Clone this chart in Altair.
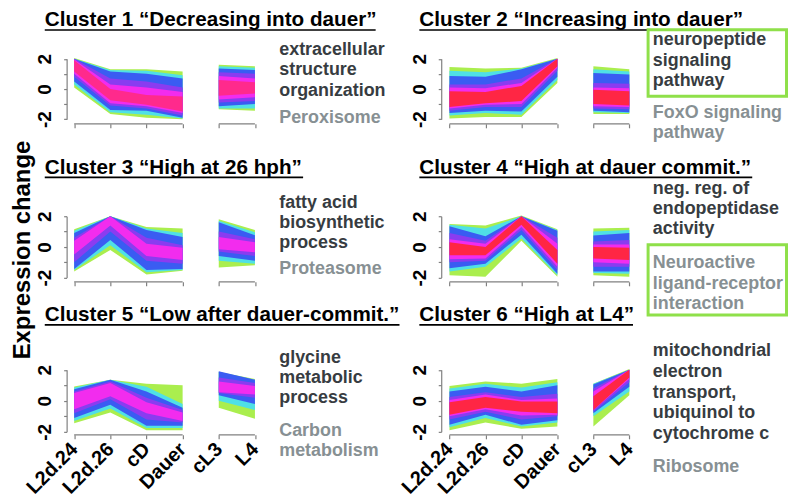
import altair as alt
import pandas as pd

# ---------------- data ----------------
TIMEPOINTS = ["L2d.24", "L2d.26", "cD", "Dauer", "cL3", "L4"]
SEGMENT = [0, 0, 0, 0, 1, 1]
Y_TICKS = [-2, -1, 0, 1, 2]
Y_TICK_LABELS = {-2: "-2", 0: "0", 2: "2"}

TITLES = [
    "Cluster 1 \u201cDecreasing into dauer\u201d",
    "Cluster 2 \u201cIncreasing into dauer\u201d",
    "Cluster 3 \u201cHigh at 26 hph\u201d",
    "Cluster 4 \u201cHigh at dauer commit.\u201d",
    "Cluster 5 \u201cLow after dauer-commit.\u201d",
    "Cluster 6 \u201cHigh at L4\u201d",
]
GO_TERMS = [
    ["extracellular", "structure", "organization"],
    ["neuropeptide", "signaling", "pathway"],
    ["fatty acid", "biosynthetic", "process"],
    ["neg. reg. of", "endopeptidase", "activity"],
    ["glycine", "metabolic", "process"],
    ["mitochondrial", "electron", "transport,", "ubiquinol to", "cytochrome c"],
]
KEGG_TERMS = [
    ["Peroxisome"],
    ["FoxO signaling", "pathway"],
    ["Proteasome"],
    ["Neuroactive", "ligand-receptor", "interaction"],
    ["Carbon", "metabolism"],
    ["Ribosome"],
]
Y_TITLE = "Expression change"

# membership bands: level -> (lower envelope, upper envelope) at the 6 time points
C1_BANDS = {
    "g": ([0.10, -1.65, -1.90, -2.00, -1.35, -1.45], [2.05, 1.30, 1.30, 1.15, 1.60, 1.50]),
    "c": ([0.30, -1.55, -1.70, -1.95, -1.30, -1.30], [2.00, 1.25, 1.20, 0.90, 1.50, 1.40]),
    "b": ([0.50, -1.40, -1.45, -1.90, -1.15, -1.00], [2.00, 1.15, 1.00, 0.70, 1.35, 1.25]),
    "v": ([0.80, -1.10, -1.30, -1.75, -0.90, -0.80], [2.00, 0.70, 0.50, 0.10, 1.10, 1.00]),
    "m": ([1.00, -0.95, -1.15, -1.60, -0.70, -0.55], [1.95, 0.30, 0.10, -0.20, 0.85, 0.70]),
    "p": ([1.15, -0.75, -1.05, -1.50, -0.45, -0.30], [1.90, 0.00, -0.40, -0.50, 0.60, 0.45]),
}
C2_BANDS = {
    "g": ([-1.95, -1.85, -1.85, 0.40, -1.65, -1.65], [1.45, 1.35, 1.40, 2.05, 1.50, 1.30]),
    "c": ([-1.75, -1.60, -1.70, 0.60, -1.55, -1.60], [1.20, 1.10, 1.35, 2.00, 1.30, 1.15]),
    "b": ([-1.60, -1.45, -1.50, 0.80, -1.45, -1.55], [0.85, 0.80, 1.30, 2.00, 1.05, 0.95]),
    "v": ([-1.45, -1.20, -1.20, 1.20, -1.30, -1.35], [0.30, 0.30, 0.70, 2.00, 0.40, 0.35]),
    "m": ([-1.30, -1.05, -1.00, 1.40, -1.15, -1.20], [0.10, 0.05, 0.40, 2.00, 0.10, 0.05]),
    "r": ([-1.20, -0.95, -0.80, 1.50, -1.00, -1.10], [-0.15, -0.20, 0.20, 2.00, -0.05, -0.15]),
}
C3_BANDS = {
    "g": ([-1.60, -0.20, -1.80, -1.55, -1.35, -1.20], [1.15, 2.00, 1.30, 1.20, 1.80, 1.10]),
    "c": ([-1.50, 0.10, -1.65, -1.50, -0.90, -1.10], [1.05, 2.00, 1.20, 0.90, 1.70, 0.95]),
    "b": ([-1.45, 0.45, -1.50, -1.45, -0.60, -0.90], [0.90, 2.00, 1.10, 0.65, 1.60, 0.76]),
    "v": ([-1.00, 1.00, -0.90, -1.10, -0.30, -0.60], [0.60, 2.00, 0.60, 0.10, 1.00, 0.50]),
    "m": ([-0.50, 1.40, -0.60, -0.85, -0.15, -0.35], [0.40, 2.00, 0.20, -0.05, 0.65, 0.30]),
}
C4_BANDS = {
    "g": ([-1.85, -1.95, 0.40, -1.95, -1.85, -1.95], [1.50, 1.40, 2.05, 1.15, 1.20, 1.25]),
    "c": ([-1.60, -1.30, 0.55, -1.85, -1.70, -1.75], [1.45, 1.20, 2.00, 1.10, 1.00, 1.10]),
    "b": ([-1.40, -1.10, 0.80, -1.75, -1.60, -1.60], [1.35, 0.70, 2.00, 1.05, 0.75, 0.90]),
    "v": ([-1.00, -0.90, 1.10, -1.50, -1.30, -1.30], [0.90, 0.40, 2.00, 0.60, 0.35, 0.45]),
    "m": ([-0.80, -0.75, 1.30, -1.30, -1.00, -1.10], [0.50, 0.20, 2.00, 0.20, 0.15, 0.15]),
    "r": ([-0.55, -0.55, 1.45, -1.10, -0.75, -0.85], [0.30, 0.00, 2.00, -0.20, 0.00, -0.05]),
}
C5_BANDS = {
    "g": ([-1.45, -0.75, -1.90, -1.90, -0.45, -1.15], [0.92, 1.35, 1.10, 1.00, 1.85, 1.40]),
    "c": ([-1.30, -0.50, -1.75, -1.75, 0.00, -0.60], [0.85, 1.35, 0.90, -0.20, 1.85, 1.35]),
    "b": ([-1.10, -0.25, -1.60, -1.60, 0.35, -0.20], [0.75, 1.35, 0.60, -0.45, 1.90, 1.35]),
    "v": ([-0.80, 0.10, -1.20, -1.40, 0.50, 0.20], [0.60, 1.25, 0.20, -0.60, 1.50, 1.15]),
    "m": ([-0.55, 0.30, -0.80, -1.30, 0.55, 0.40], [0.50, 1.15, -0.10, -0.75, 1.25, 0.95]),
}
C6_BANDS = {
    "g": ([-1.90, -1.40, -1.80, -1.65, -1.65, 0.35], [0.95, 1.25, 1.10, 1.40, 1.10, 2.05]),
    "c": ([-1.70, -1.10, -1.65, -1.40, -1.00, 0.60], [0.80, 1.10, 0.85, 1.20, 1.10, 2.00]),
    "b": ([-1.55, -0.90, -1.55, -1.25, -0.80, 0.90], [0.60, 0.90, 0.60, 1.00, 1.05, 2.00]),
    "v": ([-1.20, -0.70, -1.20, -1.00, -0.70, 1.20], [0.25, 0.55, 0.25, 0.45, 0.80, 2.00]),
    "m": ([-1.00, -0.55, -0.95, -0.90, -0.60, 1.40], [0.05, 0.40, 0.05, 0.15, 0.60, 2.00]),
    "r": ([-0.90, -0.45, -0.70, -0.80, -0.60, 1.50], [-0.10, 0.25, -0.05, -0.05, 0.30, 2.00]),
}
CLUSTER_BANDS = [C1_BANDS, C2_BANDS, C3_BANDS, C4_BANDS, C5_BANDS, C6_BANDS]

# ---------------- style / layout ----------------
FONT = "Liberation Sans"
LEVEL_COLORS = {
    "g": "#aaee4e", "c": "#4fe0e6", "b": "#3a5cf2", "v": "#8a3cf0",
    "m": "#f22cee", "p": "#ff2a8c", "r": "#ff2644",
}
AX_COLOR = "#808080"
DARK_TXT = "#373c41"
GRAY_TXT = "#879093"
BOX_GREEN = "#8fe04a"

ROW_HEIGHTS = [120, 115, 115]
AXIS_BOTTOM = 115          # x axis line position inside every panel
ROW_SPACING = 39
COL_W = [392, 393]
Y_AXIS_OFFSET = [-59, -44]
X_RANGE = [[66.6, 248.5], [52.3, 233.3]]
Y_RANGE = [[110.3, 49.5], [110.7, 49.0], [112.0, 49.5]]
TITLE_X = [37, 22]
TITLE_BASE = [17.0, 6.3, 0.7]
TITLE_END = [370, 348, 297, 357, 394, 237]
TEXT_X = [273, 257]
GO_Y = [[45.3, 66.0, 86.5], [36.0, 56.3, 76.5], [40.7, 60.5, 80.5],
        [27.0, 47.0, 67.0], [42.3, 62.5, 83.0], [35.5, 56.5, 77.5, 98.5, 119.5]]
KEGG_Y = [[113.7], [108.7, 129.0], [107.3], [101.5, 122.0, 142.5], [115.7, 136.3], [152.3]]
BOXES = {1: (252.2, 391.5, 20.2, 87.2), 3: (252.2, 391.5, 77.8, 148.5)}
Y_TITLE_PANEL = 2
Y_TITLE_POS = (15.5, 83)


def one_text(s, x, y, size, color, angle=0, align="left", baseline="alphabetic"):
    return alt.Chart(pd.DataFrame({"s": [s]})).mark_text(
        align=align, baseline=baseline, fontSize=size, fontWeight="bold",
        font=FONT, color=color, angle=angle,
    ).encode(text="s:N", x=alt.value(x), y=alt.value(y))


def panel(i):
    row, col = divmod(i, 2)
    xs = alt.Scale(domain=[0, 5], range=X_RANGE[col], nice=False, zero=False)
    ys = alt.Scale(domain=[-2, 2], range=Y_RANGE[row], nice=False, zero=False)
    lab_expr = "[" + ",".join("'%s'" % t for t in TIMEPOINTS) + "][datum.value]"
    xaxis = alt.Axis(
        values=list(range(len(TIMEPOINTS))), title=None, domain=False, grid=False,
        offset=AXIS_BOTTOM - ROW_HEIGHTS[row],
        tickSize=4, tickColor=AX_COLOR, tickWidth=1.2, labels=(row == 2),
        labelExpr=lab_expr, labelAngle=-45, labelAlign="right", labelBaseline="middle",
        labelPadding=7, labelFontSize=20, labelFontWeight="bold", labelFont=FONT,
        labelColor="black", labelOverlap=False, labelBound=False, labelFlush=False,
    )
    yexpr = " : ".join("datum.value == %d ? '%s'" % (k, v) for k, v in Y_TICK_LABELS.items()) + " : ''"
    yaxis = alt.Axis(
        values=Y_TICKS, title=None, grid=False, domainColor=AX_COLOR, domainWidth=1.2,
        offset=Y_AXIS_OFFSET[col],
        tickColor=AX_COLOR, tickWidth=1.2, tickSize=3, labelExpr=yexpr, labelAngle=-90,
        labelAlign="center", labelBaseline="alphabetic", labelPadding=13,
        labelFontSize=19, labelFontWeight="bold", labelFont=FONT, labelColor="black",
        labelOverlap=False, labelBound=False, labelFlush=False,
    )
    bands = CLUSTER_BANDS[i]
    layers = []
    for lv, (lo, hi) in bands.items():
        d = pd.DataFrame({"t": list(range(6)), "seg": SEGMENT, "lo": lo, "hi": hi})
        layers.append(
            alt.Chart(d).mark_area(color=LEVEL_COLORS[lv], interpolate="linear").encode(
                x=alt.X("t:Q", scale=xs, axis=xaxis),
                y=alt.Y("lo:Q", scale=ys, axis=yaxis),
                y2="hi:Q",
                detail="seg:N",
            )
        )
    # segmented x axis lines
    starts, ends = [], []
    for k, s in enumerate(SEGMENT):
        if k == 0 or SEGMENT[k - 1] != s:
            starts.append(k)
        if k == len(SEGMENT) - 1 or SEGMENT[k + 1] != s:
            ends.append(k)
    seg_df = pd.DataFrame({"a": starts, "b": ends})
    layers.append(
        alt.Chart(seg_df).mark_rule(color=AX_COLOR, strokeWidth=1.2).encode(
            x=alt.X("a:Q", scale=xs, axis=xaxis), x2="b:Q", y=alt.value(AXIS_BOTTOM)
        )
    )
    # title with underline
    layers.append(one_text(TITLES[i], TITLE_X[col], TITLE_BASE[row], 20.8, "black"))
    layers.append(
        alt.Chart(pd.DataFrame({"s": [0]})).mark_rule(color="black", strokeWidth=1.6).encode(
            x=alt.value(TITLE_X[col]), x2=alt.value(TITLE_END[i]),
            y=alt.value(TITLE_BASE[row] + 3.6)
        )
    )
    for s, y in zip(GO_TERMS[i], GO_Y[i]):
        layers.append(one_text(s, TEXT_X[col], y, 18, DARK_TXT))
    for s, y in zip(KEGG_TERMS[i], KEGG_Y[i]):
        layers.append(one_text(s, TEXT_X[col], y, 18, GRAY_TXT))
    if i in BOXES:
        x1, x2, y1, y2 = BOXES[i]
        layers.append(
            alt.Chart(pd.DataFrame({"s": [0]})).mark_rect(
                fillOpacity=0, stroke=BOX_GREEN, strokeWidth=3
            ).encode(x=alt.value(x1), x2=alt.value(x2), y=alt.value(y1), y2=alt.value(y2))
        )
    if i == Y_TITLE_PANEL:
        layers.append(one_text(Y_TITLE, Y_TITLE_POS[0], Y_TITLE_POS[1], 24, "black",
                               angle=270, align="center", baseline="middle"))
    return alt.layer(*layers).properties(width=COL_W[col], height=ROW_HEIGHTS[row])


chart = (
    alt.concat(*[panel(i) for i in range(6)], columns=2,
               spacing={"row": ROW_SPACING, "column": 0}, bounds="flush")
    .properties(padding=0)
    .configure_view(stroke=None)
)
chart.save("out.html", embed_options={"renderer": "svg", "actions": False})
